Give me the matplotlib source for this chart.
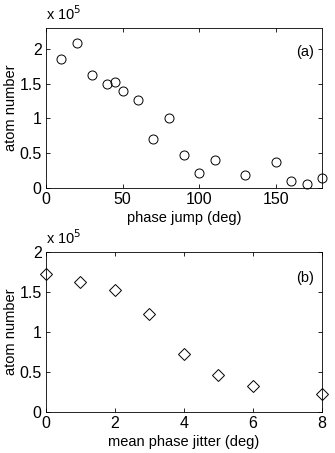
import matplotlib
matplotlib.use('Agg')
import matplotlib.pyplot as plt

plt.rcParams['font.family'] = ['Liberation Sans', 'DejaVu Sans']
plt.rcParams['font.size'] = 10.5

# panel (a): atom number vs phase jump
jump_deg = [10, 20, 30, 40, 45, 50, 60, 70, 80, 90, 100, 110, 130, 150, 160, 170, 180]
jump_atoms = [1.86, 2.08, 1.63, 1.50, 1.53, 1.40, 1.26, 0.71, 1.01, 0.48, 0.215, 0.40, 0.19, 0.38, 0.10, 0.06, 0.15]

# panel (b): atom number vs mean phase jitter
jitter_deg = [0, 1, 2, 3, 4, 5, 6, 8]
jitter_atoms = [1.73, 1.63, 1.53, 1.225, 0.725, 0.46, 0.32, 0.23]

fig = plt.figure(figsize=(3.35, 4.53), dpi=100)
ax1 = fig.add_axes([0.137, 0.585, 0.824, 0.353])
ax2 = fig.add_axes([0.137, 0.0905, 0.824, 0.353])


def style(ax):
    ax.tick_params(direction='in', top=True, right=True, length=3, width=0.6, pad=3, labelsize=11.5)
    for s in ax.spines.values():
        s.set_linewidth(0.6)
    ax.set_ylabel('atom number', labelpad=1)
    ax.text(0.0, 1.03, r'x 10$^5$', transform=ax.transAxes, ha='left', va='bottom', fontsize=10.5)


ax1.plot(jump_deg, jump_atoms, 'o', mfc='none', mec='black', ms=6.5, mew=0.7, clip_on=False)
ax1.set_xlim(0, 180)
ax1.set_ylim(0, 2.3)
ax1.set_xticks([0, 50, 100, 150])
ax1.set_yticks([0, 0.5, 1, 1.5, 2])
ax1.set_yticklabels(['0', '0.5', '1', '1.5', '2'])
ax1.set_xlabel('phase jump (deg)', labelpad=3)
ax1.text(0.97, 0.85, '(a)', transform=ax1.transAxes, ha='right', va='center')
style(ax1)

ax2.plot(jitter_deg, jitter_atoms, 'D', mfc='none', mec='black', ms=6, mew=0.7, clip_on=False)
ax2.set_xlim(0, 8)
ax2.set_ylim(0, 2)
ax2.set_xticks([0, 2, 4, 6, 8])
ax2.set_yticks([0, 0.5, 1, 1.5, 2])
ax2.set_yticklabels(['0', '0.5', '1', '1.5', '2'])
ax2.set_xlabel('mean phase jitter (deg)', labelpad=3)
ax2.text(0.97, 0.84, '(b)', transform=ax2.transAxes, ha='right', va='center')
style(ax2)

fig.savefig('out.png', dpi=100)
